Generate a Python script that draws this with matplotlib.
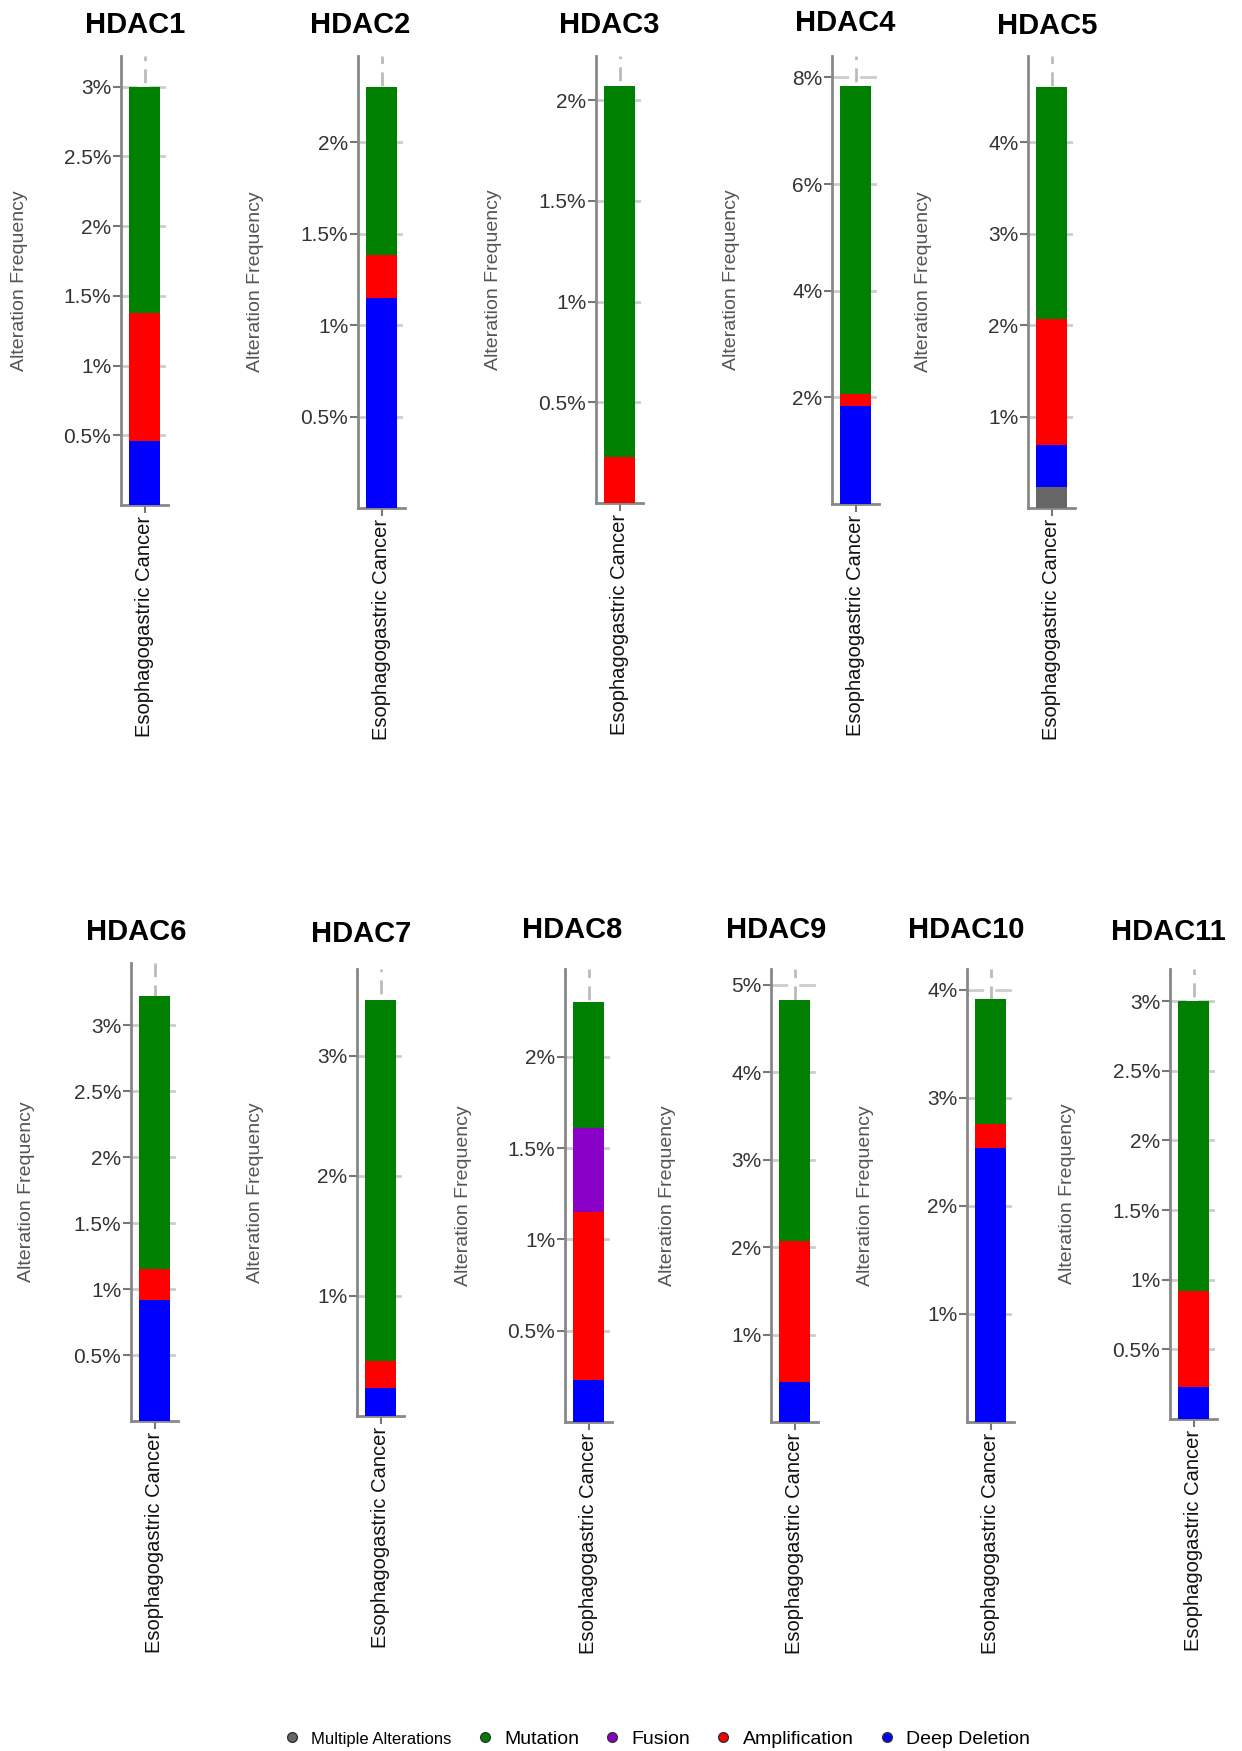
import matplotlib.pyplot as plt
from matplotlib.lines import Line2D

plt.rcParams['font.family'] = ['Liberation Sans', 'DejaVu Sans']

# --- data (alteration frequency, %) ---
genes = ['HDAC1', 'HDAC2', 'HDAC3', 'HDAC4', 'HDAC5', 'HDAC6',
         'HDAC7', 'HDAC8', 'HDAC9', 'HDAC10', 'HDAC11']
cancer = 'Esophagogastric Cancer'

multiple = [0, 0, 0, 0, 0.23, 0, 0, 0, 0, 0, 0]
deep_del = [0.46, 1.15, 0, 1.84, 0.46, 0.92, 0.23, 0.23, 0.46, 2.53, 0.23]
amp = [0.92, 0.23, 0.23, 0.23, 1.38, 0.23, 0.23, 0.92, 1.61, 0.23, 0.69]
fusion = [0, 0, 0, 0, 0, 0, 0, 0.46, 0, 0, 0]
mutation = [1.62, 0.92, 1.84, 5.76, 2.53, 2.07, 3.00, 0.69, 2.76, 1.15, 2.08]

ymax = [3.22, 2.47, 2.22, 8.4, 4.94, 3.47, 3.72, 2.48, 5.18, 4.19, 3.23]
yticks = [
    [0.5, 1, 1.5, 2, 2.5, 3],
    [0.5, 1, 1.5, 2],
    [0.5, 1, 1.5, 2],
    [2, 4, 6, 8],
    [1, 2, 3, 4],
    [0.5, 1, 1.5, 2, 2.5, 3],
    [1, 2, 3],
    [0.5, 1, 1.5, 2],
    [1, 2, 3, 4, 5],
    [1, 2, 3, 4],
    [0.5, 1, 1.5, 2, 2.5, 3],
]

# stacking order bottom -> top
series = [('Multiple Alterations', multiple, '#666666'),
          ('Deep Deletion', deep_del, '#0000ff'),
          ('Amplification', amp, '#ff0000'),
          ('Fusion', fusion, '#8b00c9'),
          ('Mutation', mutation, '#008000')]
legend_order = ['Multiple Alterations', 'Mutation', 'Fusion', 'Amplification', 'Deep Deletion']

# --- layout in pixels: axis x, y of zero, y of top, title x, title y, ylabel x ---
W, H = 1242, 1751
axw = 47
layout = [
    (121, 505, 56, 135, 25, 20),
    (358, 508, 56, 360, 25, 256),
    (596, 503, 56, 609, 25, 493),
    (832, 504, 56, 845, 23, 732),
    (1028, 508, 56, 1047, 26, 923),
    (131, 1421, 963, 136, 932, 27),
    (357, 1416, 969, 361, 934, 256),
    (565, 1422, 969, 572, 930, 464),
    (771, 1422, 969, 776, 930, 667),
    (967, 1422, 969, 966, 930, 866),
    (1170, 1419, 969, 1168, 932, 1068),
]

fig = plt.figure(figsize=(W / 100, H / 100), dpi=100)

for i, g in enumerate(genes):
    x0, y0, yt, tx, ty, lx = layout[i]
    ax = fig.add_axes([x0 / W, 1 - y0 / H, axw / W, (y0 - yt) / H])
    bottom = 0
    for name, vals, col in series:
        v = vals[i]
        if v > 0:
            ax.bar(0, v, width=0.68, bottom=bottom, color=col, zorder=3)
            bottom += v
    ax.set_xlim(-0.5, 0.5)
    ax.set_ylim(0, ymax[i])
    ax.set_yticks(yticks[i])
    ax.set_yticklabels(['{:g}%'.format(t) for t in yticks[i]])
    ax.set_xticks([0])
    ax.set_xticklabels([cancer], rotation=90, fontsize=14.5, color='#111111')
    ax.set_axisbelow(True)
    ax.grid(axis='y', color='#cccccc', lw=2, ls=(0, (6, 4)))
    ax.grid(axis='x', color='#bbbbbb', lw=2, ls=(0, (5, 3)))
    ax.tick_params(axis='y', length=6, width=1.5, color='#777777',
                   labelsize=15, labelcolor='#333333', pad=1)
    ax.tick_params(axis='x', length=6, width=1.5, color='#777777', pad=2)
    for s in ['top', 'right']:
        ax.spines[s].set_visible(False)
    for s in ['left', 'bottom']:
        ax.spines[s].set_color('#888888')
        ax.spines[s].set_linewidth(2)
    fig.text(tx / W, 1 - ty / H, g, fontsize=21, fontweight='bold',
             ha='center', va='center')
    fig.text(lx / W, 1 - (y0 + yt) / 2 / H, 'Alteration Frequency', fontsize=14,
             color='#555555', rotation=90, ha='center', va='center')

colors = {name: col for name, vals, col in series}
handles = [Line2D([], [], marker='o', ls='', markersize=7,
                  markerfacecolor=colors[n], markeredgecolor='#333333')
           for n in legend_order]
leg = fig.legend(handles, legend_order, loc='center', ncol=5, frameon=False,
                 bbox_to_anchor=(656 / W, 1 - 1739 / H), fontsize=14,
                 handlelength=1, handletextpad=0.5, columnspacing=1.2)
leg.get_texts()[0].set_fontsize(12)

fig.savefig('out.png', dpi=100)
